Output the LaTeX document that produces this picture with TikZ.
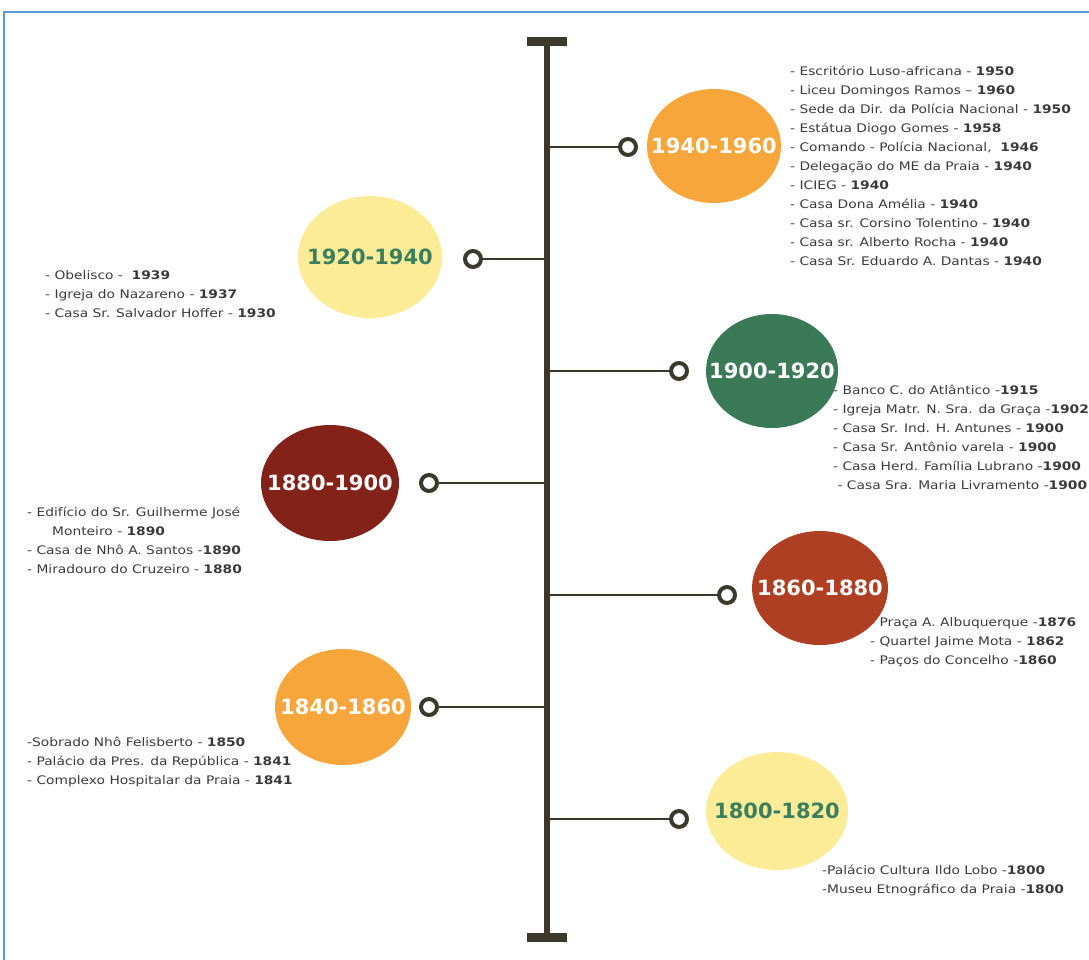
\documentclass[tikz,border=0pt]{standalone}
\usepackage{fontspec}
\setmainfont{DejaVu Sans}
\newfontfamily\itemfont[FakeStretch=1.17]{DejaVu Sans}
\usetikzlibrary{positioning,shapes.geometric}

\definecolor{axisgray}{HTML}{3A392C}
\definecolor{frameblue}{HTML}{5B9BD5}
\definecolor{itemgray}{HTML}{3A3A3A}
\definecolor{orangeP}{HTML}{F6A63B}
\definecolor{yellowP}{HTML}{FCEC97}
\definecolor{greenP}{HTML}{3B7A58}
\definecolor{greenT}{HTML}{3C7F5E}
\definecolor{darkredP}{HTML}{822218}
\definecolor{brickP}{HTML}{AF3F22}

\begin{document}
\begin{tikzpicture}[x=1pt,y=-1pt,
    period/.style={ellipse,inner sep=0pt},
    yeartext/.style={font=\fontsize{21}{21}\bfseries\selectfont,inner sep=0pt},
    ring/.style={circle,draw=axisgray,line width=4pt,fill=white,minimum size=16pt,inner sep=0pt},
    branch/.style={axisgray,line width=2.6pt},
    items/.style={anchor=north west,align=left,inner sep=0pt,text=itemgray,font=\itemfont\fontsize{11.8}{19}\selectfont}]
  \useasboundingbox (0,0) rectangle (1089,960);
  % frame
  \draw[frameblue,line width=2.5pt] (4,960) -- (4,12) -- (1089,12);
  % axis with its two caps
  \coordinate (top) at (547,42);
  \coordinate (bot) at (547,937);
  \draw[axisgray,line width=6pt] (top) -- (bot);
  \draw[axisgray,line width=9pt] (527,42) -- (567,42);
  \draw[axisgray,line width=9pt] (527,937) -- (567,937);

  % 1940-1960
  \coordinate (a1) at (547,147);
  \node[ring] (r1) at (628,147) {};
  \draw[branch] (a1) -- (r1);
  \node[period,fill=orangeP,minimum width=134pt,minimum height=114pt,
    label={[yeartext,text=white]center:1940-1960}] (p1) at (714,146) {};
  \node[items] (l1) at (790,66) {- Escritório Luso-africana - \textbf{1950}\\
    - Liceu Domingos Ramos – \textbf{1960}\\
    - Sede da Dir. da Polícia Nacional - \textbf{1950}\\
    - Estátua Diogo Gomes - \textbf{1958}\\
    - Comando - Polícia Nacional, \ \textbf{1946}\\
    - Delegação do ME da Praia - \textbf{1940}\\
    - ICIEG - \textbf{1940}\\
    - Casa Dona Amélia - \textbf{1940}\\
    - Casa sr. Corsino Tolentino - \textbf{1940}\\
    - Casa sr. Alberto Rocha - \textbf{1940}\\
    - Casa Sr. Eduardo A. Dantas - \textbf{1940}};

  % 1920-1940
  \coordinate (a2) at (547,259);
  \node[ring] (r2) at (473,259) {};
  \draw[branch] (a2) -- (r2);
  \node[period,fill=yellowP,minimum width=144pt,minimum height=122pt,
    label={[yeartext,text=greenT]center:1920-1940}] (p2) at (370,257) {};
  \node[items] (l2) at (45,270) {- Obelisco - \ \textbf{1939}\\
    - Igreja do Nazareno - \textbf{1937}\\
    - Casa Sr. Salvador Hoffer - \textbf{1930}};

  % 1900-1920
  \coordinate (a3) at (547,371);
  \node[ring] (r3) at (679,371) {};
  \draw[branch] (a3) -- (r3);
  \node[items] (l3) at (833,385) {- Banco C. do Atlântico -\textbf{1915}\\
    - Igreja Matr. N. Sra. da Graça -\textbf{1902}\\
    - Casa Sr. Ind. H. Antunes - \textbf{1900}\\
    - Casa Sr. Antônio varela - \textbf{1900}\\
    - Casa Herd. Família Lubrano -\textbf{1900}\\
    \ - Casa Sra. Maria Livramento -\textbf{1900}};
  \node[period,fill=greenP,minimum width=132pt,minimum height=114pt,
    label={[yeartext,text=white]center:1900-1920}] (p3) at (772,371) {};

  % 1880-1900
  \coordinate (a4) at (547,483);
  \node[ring] (r4) at (429,483) {};
  \draw[branch] (a4) -- (r4);
  \node[period,fill=darkredP,minimum width=138pt,minimum height=116pt,
    label={[yeartext,text=white]center:1880-1900}] (p4) at (330,483) {};
  \node[items] (l4) at (27,507) {- Edifício do Sr. Guilherme José\\
    \hspace{25pt}Monteiro - \textbf{1890}\\
    - Casa de Nhô A. Santos -\textbf{1890}\\
    - Miradouro do Cruzeiro - \textbf{1880}};

  % 1860-1880
  \coordinate (a5) at (547,595);
  \node[ring] (r5) at (727,595) {};
  \draw[branch] (a5) -- (r5);
  \node[items] (l5) at (870,617) {- Praça A. Albuquerque -\textbf{1876}\\
    - Quartel Jaime Mota - \textbf{1862}\\
    - Paços do Concelho -\textbf{1860}};
  \node[period,fill=brickP,minimum width=136pt,minimum height=114pt,
    label={[yeartext,text=white]center:1860-1880}] (p5) at (820,588) {};

  % 1840-1860
  \coordinate (a6) at (547,707);
  \node[ring] (r6) at (429,707) {};
  \draw[branch] (a6) -- (r6);
  \node[period,fill=orangeP,minimum width=136pt,minimum height=116pt,
    label={[yeartext,text=white]center:1840-1860}] (p6) at (343,707) {};
  \node[items] (l6) at (27,737) {-Sobrado Nhô Felisberto - \textbf{1850}\\
    - Palácio da Pres. da República - \textbf{1841}\\
    - Complexo Hospitalar da Praia - \textbf{1841}};

  % 1800-1820
  \coordinate (a7) at (547,819);
  \node[ring] (r7) at (679,819) {};
  \draw[branch] (a7) -- (r7);
  \node[period,fill=yellowP,minimum width=142pt,minimum height=118pt,
    label={[yeartext,text=greenT]center:1800-1820}] (p7) at (777,811) {};
  \node[items] (l7) at (822,865) {-Palácio Cultura Ildo Lobo -\textbf{1800}\\
    -Museu Etnográfico da Praia -\textbf{1800}};
\end{tikzpicture}
\end{document}
